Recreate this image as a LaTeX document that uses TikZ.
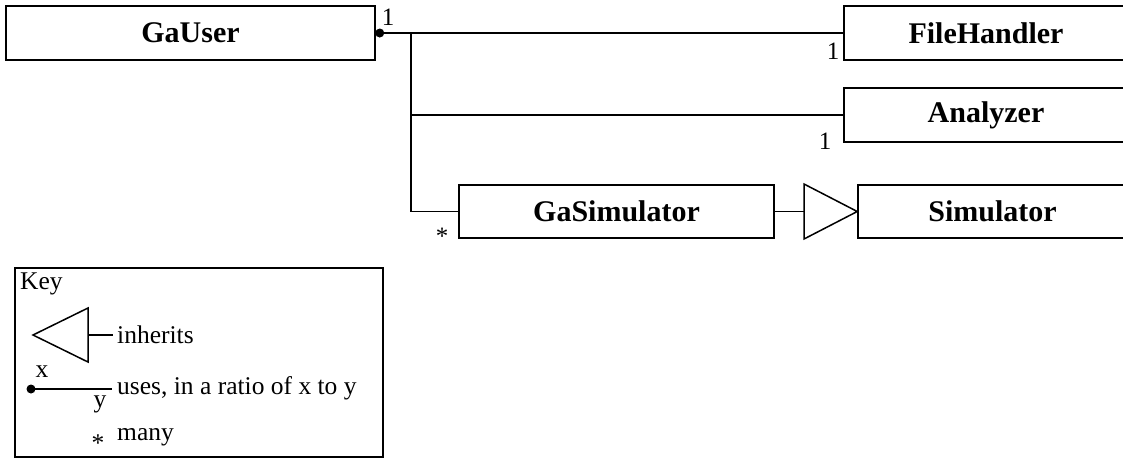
\documentclass[tikz,border=0pt]{standalone}
\usepackage{fontspec}
\setmainfont{Liberation Serif}
\usetikzlibrary{calc}
\tikzset{
  classbox/.style={draw,line width=1.5pt,inner sep=0pt,minimum height=54pt,
    font=\fontsize{30}{36}\selectfont\bfseries},
  mult/.style={inner sep=0pt,font=\fontsize{25}{30}\selectfont},
  keytext/.style={inner sep=0pt,anchor=west,font=\fontsize{25.5}{30}\selectfont},
  link/.style={line width=1.5pt}
}
\begin{document}
\begin{tikzpicture}[x=1pt,y=-1pt]
  \useasboundingbox (0,0) rectangle (1123,459);

  % classes
  \node[classbox,minimum width=369pt] (gauser) at (190.5,33) {GaUser};
  \node[classbox,minimum width=284pt] (filehandler) at (986,33) {FileHandler};
  \node[classbox,minimum width=284pt] (analyzer) at (986,115) {Analyzer};
  \node[classbox,minimum width=315pt,minimum height=53pt] (gasim) at (616.5,211.5) {GaSimulator};
  \node[classbox,minimum width=269pt,minimum height=53pt] (simulator) at (992.5,211.5) {Simulator};

  % uses
  \coordinate (jn) at (411,33);
  \draw[link] (gauser.east) -- (filehandler.west);
  \draw[link] (jn) |- (analyzer.west);
  \draw[link] (jn) |- (gasim.west);
  \fill ($(gauser.east)+(4,0)$) circle (4.5);

  % multiplicities
  \node[mult] (m1) at (388,17) {1};
  \node[mult] (m2) at (833,51) {1};
  \node[mult] (m3) at (825,141) {1};
  \node[mult] (m4) at (442,236) {*};

  % inherits
  \coordinate (triback) at (804,211.5);
  \draw[link] (gasim.east) -- (triback);
  \draw[link,line join=miter] ($(triback)+(0,-27.5)$) -- (simulator.west)
    -- ($(triback)+(0,27.5)$) -- cycle;

  % key
  \draw[link] (15,268) rectangle (383,457);
  \node[keytext,anchor=north west] (keyhead) at (20,273) {Key};
  \draw[link,line join=miter] (33,335) -- (88,308) -- (88,362) -- cycle;
  \draw[link] (88,335) -- (113,335);
  \node[keytext] (kinh) at (117,335) {inherits};
  \fill (31,389) circle (4.5);
  \draw[link] (31,389) -- (112,389);
  \node[keytext,anchor=center] (kx) at (42,372) {x};
  \node[keytext,anchor=center] (ky) at (100,404) {y};
  \node[keytext] (kuse) at (117,388) {uses, in a ratio of x to y};
  \node[keytext,anchor=center] (kstar) at (98,443) {*};
  \node[keytext] (kmany) at (117,437) {many};
\end{tikzpicture}
\end{document}
